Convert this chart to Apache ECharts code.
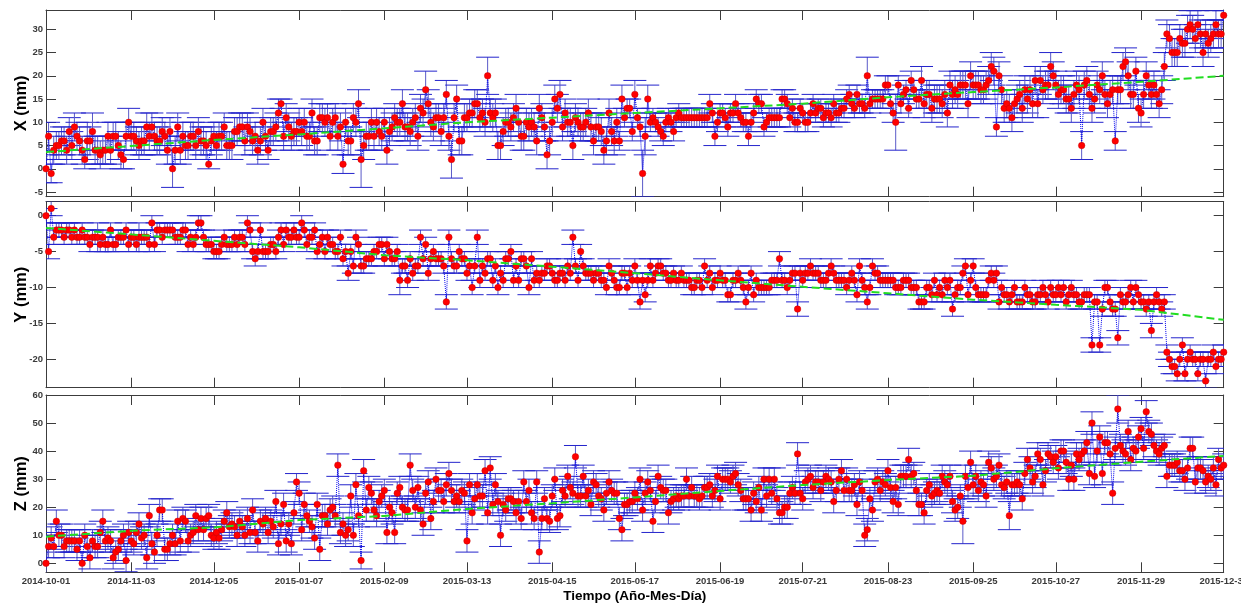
<!DOCTYPE html>
<html>
<head>
<meta charset="utf-8">
<script src="https://cdn.jsdelivr.net/npm/echarts@6/dist/echarts.min.js"></script>
<style>
  html, body { margin: 0; padding: 0; background: #fff; }
  #chart { width: 1241px; height: 605px; }
</style>
</head>
<body>
<div id="chart"></div>
<script>
// fecha inicial (un punto por dia)
const startDate = '2014-10-01';
const tickLabels = ['2014-10-01','2014-11-03','2014-12-05','2015-01-07','2015-02-09','2015-03-13','2015-04-15',
  '2015-05-17','2015-06-19','2015-07-21','2015-08-23','2015-09-25','2015-10-27','2015-11-29','2015-12-31'];

// componente X (mm)
const xValues = [
  0,7,-1,4,5,5,6,6,4,8, 5,9,7,6,4,2,6,6,8,4, 4,3,4,4,7,4,7,7,5,3, 2,7,10,7,7,6,5,6,6,9,
  7,9,7,6,6,8,7,4,8,0, 4,9,4,7,5,5,7,7,5,8, 6,6,5,1,6,7,5,7,7,9, 5,5,5,8,8,9,9,6,9,8,
  6,7,4,6,10,7,4,8,8,9, 12,14,7,11,9,7,8,8,10,8, 10,7,7,
  12,6,6,11,11,10,11,7,10,11, 7,9,1,10,6,6,11,10,14,2, 5,7,7,10,7,10,8,7,10,4,
  8,9,11,10,10,14,9,9,8,10, 11,7,13,12,17,14,10,9,11,11,8, 11,16,7,2,11,15,6,6,11,11,
  12,12,14,14,11,12,10,20,12,11, 12,5,5,8,10,10,9,11,13,10, 7,7,10,9,10,9,6,13,11,9,
  3,6,10,15,13,16,9,12,10,10, 5,11,10,9,9,10,12,9,6,9,9, 8,4,6,12,8,6,10,
  6,15,11,13,13,8,16,11,9,-1, 7,15,10,11,10,9,8,7,10,11, 10,8,11,12,11,11,11,11,11,11,11,11,11,11,11,
  14,12,7,10,12,12,11,9,12,12, 14,12,11,10,10,7,10,12,15,14, 14,9,10,11,11,11,11,11,15,15,14,11,13,
  10,10,13,12,10,10,12,14,12,13, 13,11,12,12,11,14,12,12,13,13, 15,16,14,13,16,14,14,13,20,14,
  15,15,15,15,15,18,18,14,12,10, 18,14,16,17,13,19,17,15,15,
  19,14,16,16,13,15,15,15,14,16, 12,18,16,17,16,18, 18,18,14,20,18,18,18,17,17,18,
  19,22,21,9,20,17,13,14,13,11, 14,15,16,13,17,15,17,14,19,14, 19,17,18,18,22,20,18,16,17,17,
  15,15,13,16,18,17,5,18,19,16, 13,15,18,17,20,16,14,16,17,6, 17,17,22,23,20,16,16,21,13,12,
  16,20,18,16,18,16,14,17,22,29, 28,25,25,25,28,27,27,30,31,30, 28,31,29,25,29,27,28,29,31,29, 29,33
];
const xErrors = [
  3,3,2,3,3,3,3,3,3,3, 3,3,3,3,3,2,4,3,4,3, 3,3,3,3,3,3,3,3,3,3, 2,3,3,3,3,3,3,3,3,3,
  3,3,3,3,3,3,3,3,3,4, 3,3,3,3,3,3,3,3,3,3, 3,3,3,1,3,3,3,3,3,3, 3,3,3,3,3,3,3,3,3,3,
  3,3,3,3,3,3,2,3,3,3, 3,1,3,3,3,3,3,3,3,3, 3,3,3,
  3,3,3,3,3,3,3,3,3,3, 3,3,2,3,3,3,3,3,3,6, 3,3,3,3,3,3,3,3,3,3, 3,3,3,3,3,3,3,3,3,3,
  3,3,3,3,4,3,3,3,3,3,3, 3,3,3,4,3,3,3,3,3,3, 3,3,3,3,3,3,3,4,3,3, 3,3,3,3,3,3,3,3,3,3,
  3,3,3,3,3,3,3,3,3,3, 3,3,3,3,3,3,3,3,3,3, 3,3,3,3,3,3,3,3,3,3,3, 3,3,3,3,3,3,3,
  2,3,2,2,2,2,3,2,2,5, 4,3,2,2,2,2,2,2,2,2, 2,2,2,2,2,2,2,2,2,2,2,2,2,2,2,
  2,2,2,2,2,2,2,2,2,2, 2,2,2,2,2,2,2,2,2,2, 2,2,2,2,2,2,2,2,2,2,2,2,2,
  2,2,2,2,2,2,2,2,2,2, 2,2,2,2,2,2,2,2,2,2, 2,2,2,2,2,2,2,2,4,2, 2,2,2,2,2,2,2,2,2,6, 2,2,2,2,2,2,2,2,2,
  3,3,3,3,3,3,3,3,3,3, 3,3,3,3,3,3, 3,3,3,3,3,3,3,3,3,3, 3,3,3,2,3,3,3,3,3,3,
  3,3,3,3,3,3,3,3,3,3, 3,3,3,3,3,3,3,3,3,3, 3,3,3,3,3,3,3,3,3,3, 3,3,3,3,3,3,3,3,3,2,
  3,3,3,3,3,3,3,3,3,3, 3,3,3,3,3,3,3,3,3,3, 3,3,3,3,3,3,3,3,3,3, 3,3,3,3,3,3,3,3,3,3, 3,1
];
const xTrend = [3.6,4.9,6.2,7.4,8.7,10.0,11.0,12.0,13.0,14.0,15.4,16.5,17.5,18.7,20.0];

// componente Y (mm)
const yValues = [
  0,-5,1,-3,-2,-2,-2,-3,-2,-2, -3,-2,-3,-3,-2,-3,-3,-4,-3,-3, -3,-4,-3,-4,-4,-2,-4,-4,-3,-3,
  -3,-2,-4,-3,-3,-4,-3,-3,-3,-3, -4,-1,-4,-2,-2,-3,-2,-2,-2,-2, -3,-3,-3,-2,-2,-4,-3,-4,-3,-1,
  -1,-3,-4,-4,-4,-5,-5,-5,-4,-3, -4,-4,-4,-3,-4,-3,-3,-4,-1,-2, -5,-6,-5,-2,-5,-5,-5,-4,-4,-5,
  -3,-2,-4,-2,-3,-3,-2,-3,-3,-1, -2,-4,-3,
  -3,-2,-5,-4,-3,-5,-3,-4,-4,-5, -5,-3,-6,-5,-8,-5,-7,-3,-4,-7, -7,-6,-6,-6,-5,-5,-4,-4,-6,-4,
  -5,-6,-6,-5,-9,-7,-7,-9,-6,-8, -7,-7,-3,-6,-4,-8,-6,-5,-6,-6,-6, -7,-12,-3,-6,-7,-7,-5,-6,-6,-8,
  -7,-10,-7,-3,-9,-7,-8,-6,-6,-9, -7,-10,-8,-9,-6,-6,-5,-9,-7,-9, -6,-6,-7,-10,-6,-9,-8,-9,-8,-8,
  -7,-7,-8,-9,-9,-8,-8,-9,-7,-8, -3,-7,-9,-5,-7,-8,-8,-8,-9,-8,-8, -9,-9,-10,-7,-8,-9,-10,
  -10,-8,-8,-10,-8,-9,-7,-9,-12,-9, -11,-9,-7,-9,-8,-7,-7,-8,-8,-9, -9,-8,-9,-9,-8,-9,-9,-9,-10,-10,
  -9,-9,-10,-7,-9,-8,-10,-9,-9,-8, -9,-9,-11,-11,-9,-9,-8,-9,-10,-12, -10,-8,-11,-9,-10,-10,-10,-10,-10,-9,
  -9,-9,-6,-9,-9,-10,-9,-8,-8,-13, -8,-9,-8,-8,-7,-8,-8,-8,-9,-9, -9,-8,-7,-8,-9,-9,-9,-9,-10,-9,
  -8,-9,-11,-7,-9,-10,-12,-10,-7,-8, -8,-9,-9,-9,-9,-9,-9,-10,-10,-10, -9,-9,-9,-10,-10,-10,-12,
  -12,-12,-10,-10,-11,-9,-11,-10,-11,-9, -10,-9,-13,-11,-10,-10, -8,-7,-11,-9,-7,-10,-11,-11,-11,-11,
  -9,-8,-9,-8,-12,-10,-11,-11,-12,-11, -10,-12,-12,-12,-10,-11,-11,-12,-12,-11, -11,-10,-11,-12,-10,-11,-11,-10,-11,-10,
  -12,-11,-10,-11,-11,-12,-12,-11,-11,-11, -18,-12,-12,-18,-13,-10,-10,-12,-13,-13, -17,-11,-12,-12,-11,-10,-12,-10,-11,-12,
  -12,-13,-12,-16,-12,-11,-12,-13,-12,-19, -20,-21,-21,-22,-20,-18,-22,-20,-19,-20, -20,-22,-20,-20,-23,-20,-20,-19,-21,-20, -20,-19
];
const yErrors = [
  1,1,1,1,1,1,1,1,1,1, 1,1,1,1,1,1,1,1,1,1, 2,1,1,1,1,1,1,1,1,1, 1,1,1,1,1,1,2,1,1,1,
  1,1,1,1,1,1,1,1,1,1, 1,1,1,1,1,1,1,1,1,1, 1,1,1,1,1,1,1,1,1,1, 1,1,1,1,1,1,1,1,1,1,
  1,1,1,1,1,1,1,1,1,1, 1,1,1,1,1,1,1,1,1,1, 1,1,1,
  1,1,1,1,1,1,1,1,1,1, 1,1,1,1,1,1,1,1,1,1, 1,1,1,1,1,1,1,1,1,1, 1,1,1,1,2,1,1,1,1,1,
  1,1,1,1,1,1,1,1,1,1,1, 1,1,1,1,1,1,1,1,1,1, 1,1,1,1,1,1,1,1,1,1, 1,1,1,1,1,1,1,1,1,1,
  1,1,1,1,1,1,1,1,1,1, 1,1,1,1,1,1,1,1,1,1, 1,1,1,1,1,1,1,1,1,1,1, 1,1,1,1,1,1,1,
  1,1,1,1,1,1,1,1,1,1, 1,1,1,1,1,1,1,1,1,1, 1,1,1,1,1,1,1,1,1,1, 1,1,1,1,1,1,1,1,1,1,
  1,1,1,1,1,1,1,1,1,1, 1,1,1,1,1,1,1,1,1,1, 1,1,1,1,1,1,1,1,1,1, 1,1,1,1,1,1,1,1,1,1,
  1,1,1,1,1,1,1,1,1,1, 1,1,1,1,1,1,1,1,1,1, 1,1,1,1,1,1,1,1,1,1, 1,1,1,1,1,1,1,
  1,1,1,1,1,1,1,1,1,1, 1,1,1,1,1,1, 1,1,1,1,1,1,1,1,1,1, 1,1,1,1,1,1,1,1,1,1,
  1,1,1,1,1,1,1,1,1,1, 1,1,1,1,1,1,1,1,1,1, 1,1,1,1,1,1,1,1,1,1, 1,1,1,1,1,1,1,1,1,1,
  1,1,1,1,1,1,1,1,1,1, 1,1,1,1,1,1,1,1,1,1, 1,1,1,1,1,1,1,1,1,1, 1,1,1,1,1,1,1,1,1,1, 1,1
];
const yTrend = [-1.7,-2.6,-3.5,-4.4,-5.5,-6.2,-7.1,-8.0,-9.0,-9.9,-10.8,-11.7,-12.4,-13.1,-14.5];

// componente Z (mm)
const zValues = [
  0,6,9,6,15,10,10,6,8,8, 8,8,5,8,0,10,6,2,8,6, 6,11,15,8,9,8,2,4,5,8, 10,1,11,8,7,11,14,9,10,2,
  17,7,4,10,19,19,5,5,7,10, 7,15,8,16,15,8,10,11,17,12, 16,12,16,17,10,9,11,9,12,15, 18,13,14,13,10,15,13,10,16,11,
  19,11,8,15,14,16,11,15,13,22, 7,14,21,8,14,7,18,29,25,12, 21,17,15,
  13,9,21,5,17,17,14,19,20,17, 35,11,14,10,12,24,10,28,17,1, 33,19,27,25,19,17,22,24,26,11,
  20,18,11,25,27,20,19,19,35,26, 20,27,19,14,25,29,16,22,30,26,26, 22,28,32,26,22,24,22,26,25,8,
  28,18,23,28,24,24,33,18,34,21, 28,22,10,21,19,23,23,22,18,22, 16,29,22,26,18,16,29,4,16,23,
  16,15,24,30,16,17,26,24,31,27, 25,38,24,24,31,24,26,21,29,28,24, 23,19,25,29,26,25,25,
  16,12,21,21,22,22,25,23,30,19, 25,29,26,15,22,31,27,26,26,18, 22,23,24,23,24,24,30,24,27,24,
  24,23,24,27,27,28,24,26,31,23, 30,30,30,29,31,32,28,26,23,23, 23,19,25,22,27,19,30,24,30,25,
  30,23,18,18,20,20,25,27,25,39, 25,23,29,30,31,27,29,29,26,29, 31,30,29,22,26,30,33,26,30,26,
  26,28,21,29,26,10,12,23,19,29, 30,26,29,28,33,27,22,27,21,31, 31,31,37,31,32,26,21,
  21,18,26,28,24,25,26,25,31,29, 28,31,22,19,20,24, 15,31,27,36,28,31,26,29,28,24,
  36,34,30,31,35,28,27,29,17,28, 28,29,28,23,32,37,34,29,31,39, 37,28,33,39,38,36,38,34,40,40,
  36,30,35,30,39,37,39,40,43,32, 50,31,40,45,32,43,43,39,25,41, 55,42,40,39,47,37,41,40,45,48,
  41,54,47,46,42,40,39,41,42,31, 35,35,35,36,33,33,30,34,41,41, 29,34,34,33,29,31,30,34,28,37, 34,35
];
const zErrors = [
  4,4,4,4,4,4,4,4,4,4, 4,4,4,4,4,4,4,4,4,4, 4,4,4,4,4,4,4,4,4,4, 4,4,4,4,4,4,4,4,4,4,
  4,4,4,4,4,4,4,4,4,4, 4,4,4,4,4,4,4,4,4,4, 4,4,4,4,4,4,4,4,4,4, 4,4,4,4,4,4,4,4,4,4,
  4,4,4,4,4,4,4,4,4,4, 4,4,4,4,4,4,4,3,4,4, 4,4,4,
  4,4,4,4,4,4,4,4,4,4, 4,4,4,4,4,4,4,4,4,3, 4,4,4,4,4,4,4,4,4,4, 4,4,4,4,4,4,4,4,4,4,
  4,4,4,4,4,4,4,4,4,4,4, 4,4,4,4,4,4,4,4,4,4, 4,4,4,4,4,4,4,4,4,4, 4,4,4,4,4,4,4,4,4,4,
  4,4,4,4,4,4,4,4,4,4, 4,4,4,4,4,4,4,4,4,4, 4,4,4,4,4,4,4,4,4,4,4, 4,4,4,4,4,4,4,
  4,4,4,4,4,4,4,4,4,4, 4,4,4,4,4,4,4,4,4,4, 4,4,4,4,4,4,4,4,4,4, 4,4,4,4,4,4,4,4,4,4,
  4,4,4,4,4,4,4,4,4,4, 4,4,4,4,4,4,4,4,4,4, 4,4,4,4,4,4,4,4,4,4, 4,4,4,4,4,4,4,4,4,4,
  4,4,4,4,4,4,4,4,4,4, 4,4,4,4,4,4,4,4,4,4, 4,4,4,4,4,4,4,4,4,4, 4,4,4,4,4,4,4,
  4,4,4,4,4,4,4,4,4,4, 4,4,4,4,4,4, 8,4,4,4,4,4,4,4,4,4, 4,4,4,4,4,4,4,4,5,4,
  4,4,4,4,4,4,4,4,4,4, 4,4,4,4,4,4,4,4,4,4, 4,4,4,4,4,4,4,4,4,4, 4,4,4,4,4,4,4,4,4,4,
  5,4,4,4,4,4,4,4,4,4, 4,4,4,4,4,4,4,4,4,4, 4,4,4,4,4,4,4,4,4,4, 4,4,4,4,4,4,4,4,4,4, 4,4
];
const zTrend = [9.5,11.6,12.8,15.4,16.9,19.4,21.4,23.5,25.8,27.9,29.7,31.2,33.9,36.2,38.3];

const DAY = 86400000;
const t0 = Date.parse(startDate);
const tickDays = tickLabels.map(s => Math.round((Date.parse(s) - t0) / DAY));
const lastDay = tickDays[tickDays.length - 1];

const panels = [
  { name: 'X (mm)', vals: xValues, errs: xErrors, trend: xTrend, min: -6.0, max: 34.15, ticks: [-5,0,5,10,15,20,25,30], top: 10, height: 186.7 },
  { name: 'Y (mm)', vals: yValues, errs: yErrors, trend: yTrend, min: -23.95, max: 1.95, ticks: [-20,-15,-10,-5,0], top: 201.7, height: 186 },
  { name: 'Z (mm)', vals: zValues, errs: zErrors, trend: zTrend, min: -3.2, max: 60, ticks: [0,10,20,30,40,50,60], top: 395, height: 177.3 }
];

const axisColor = '#3c3c3c';
const fontFam = 'Liberation Sans, Arial, sans-serif';
const labelFont = { fontFamily: fontFam, fontSize: 9.5, fontWeight: 'bold', color: '#3a3a3a' };

// barras de error (palo vertical + dos topes)
const errorBar = (params, api) => {
  const x = api.value(0), v = api.value(1), e = api.value(2);
  const hi = api.coord([x, v + e]);
  const lo = api.coord([x, v - e]);
  const w = 11.5;
  const cap = { stroke: '#2424cc', lineWidth: 1 };
  const bar = { stroke: '#5a5ac8', lineWidth: 1 };
  return {
    type: 'group',
    children: [
      { type: 'line', shape: { x1: hi[0], y1: hi[1], x2: lo[0], y2: lo[1] }, style: bar },
      { type: 'line', shape: { x1: hi[0] - w, y1: hi[1], x2: hi[0] + w, y2: hi[1] }, style: cap },
      { type: 'line', shape: { x1: lo[0] - w, y1: lo[1], x2: lo[0] + w, y2: lo[1] }, style: cap }
    ]
  };
};

const grid = [], xAxis = [], yAxis = [], series = [];
panels.forEach((p, i) => {
  grid.push({ left: 46, right: 17.3, top: p.top, height: p.height, containLabel: false, outerBoundsMode: 'none' });
  const isLast = i === panels.length - 1;
  const xBase = {
    type: 'value', gridIndex: i, min: 0, max: lastDay,
    axisLine: { show: true, onZero: false, lineStyle: { color: axisColor, width: 1 } },
    axisTick: { show: true, inside: true, length: 10, customValues: tickDays, lineStyle: { color: axisColor } },
    splitLine: { show: false }
  };
  xAxis.push(Object.assign({}, xBase, {
    position: 'bottom',
    axisLabel: {
      show: isLast, customValues: tickDays, margin: 4, hideOverlap: false, ...labelFont,
      formatter: v => tickLabels[tickDays.indexOf(v)] || ''
    },
    name: isLast ? 'Tiempo (Año-Mes-Día)' : '',
    nameLocation: 'middle', nameGap: 17, nameMoveOverlap: false,
    nameTextStyle: { fontFamily: fontFam, fontSize: 13.5, fontWeight: 'bold', color: '#000' }
  }));
  xAxis.push(Object.assign({}, xBase, { position: 'top', axisLabel: { show: false } }));

  const yBase = {
    type: 'value', gridIndex: i, min: p.min, max: p.max,
    axisLine: { show: true, onZero: false, lineStyle: { color: axisColor, width: 1 } },
    axisTick: { show: true, inside: true, length: 10, customValues: p.ticks, lineStyle: { color: axisColor } },
    splitLine: { show: false }
  };
  yAxis.push(Object.assign({}, yBase, {
    position: 'left',
    axisLabel: { show: true, customValues: p.ticks, margin: 3, ...labelFont },
    name: p.name, nameLocation: 'middle', nameGap: 16, nameRotate: 90, nameMoveOverlap: false,
    nameTextStyle: { fontFamily: fontFam, fontSize: 16.5, fontWeight: 'bold', color: '#000' }
  }));
  yAxis.push(Object.assign({}, yBase, { position: 'right', axisLabel: { show: false } }));

  series.push({
    type: 'custom', xAxisIndex: 2 * i, yAxisIndex: 2 * i, clip: true,
    renderItem: errorBar, encode: { x: 0, y: 1 },
    data: p.vals.map((v, d) => [d, v, p.errs[d]]), z: 2, silent: true
  });
  series.push({
    type: 'line', xAxisIndex: 2 * i, yAxisIndex: 2 * i,
    data: p.vals.map((v, d) => [d, v]),
    lineStyle: { color: '#0000ee', width: 1, type: 'dotted' },
    symbol: 'circle', symbolSize: 6.5, showSymbol: true,
    itemStyle: { color: '#ff0000', borderColor: '#c80000', borderWidth: 0.5 },
    z: 3, silent: true
  });
  series.push({
    type: 'line', xAxisIndex: 2 * i, yAxisIndex: 2 * i,
    data: tickDays.map((d, k) => [d, p.trend[k]]),
    lineStyle: { color: '#22dd22', width: 2, type: [8, 4] },
    symbol: 'none', z: 4, silent: true
  });
});

const chart = echarts.init(document.getElementById('chart'), null, { renderer: 'canvas' });
chart.setOption({
  animation: false,
  backgroundColor: '#ffffff',
  grid, xAxis, yAxis, series
});
</script>
</body>
</html>
